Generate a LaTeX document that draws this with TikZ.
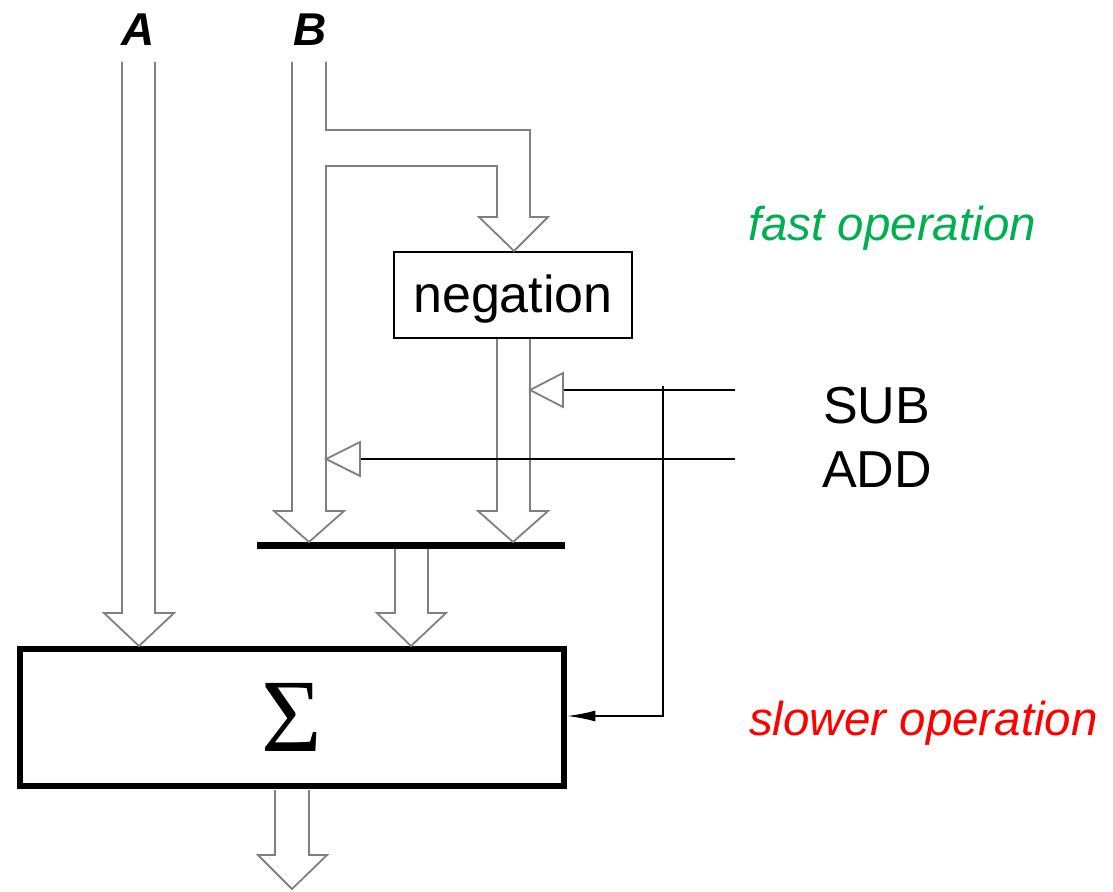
\documentclass[tikz,border=0pt]{standalone}
\usepackage{fontspec}
\setmainfont{Liberation Sans}
\newfontfamily\sigmafont{Liberation Serif}
\usetikzlibrary{arrows.meta}
\definecolor{busgray}{RGB}{128,128,128}
\definecolor{fastgreen}{RGB}{0,176,80}
\definecolor{slowred}{RGB}{255,0,0}

\begin{document}
\begin{tikzpicture}[x=1pt,y=-1pt,
  bus/.style={draw=busgray,line width=1.8pt,line join=miter},
  ctrl/.style={draw=black,line width=1.8pt},
  hollowtip/.style={draw=busgray,line width=1.8pt,fill=white,line join=miter},
  lbl/.style={inner sep=0pt,anchor=base west},
  buslabel/.style={inner sep=0pt,anchor=base,font=\fontsize{46}{50}\selectfont\bfseries\itshape},
  bigtext/.style={font=\fontsize{52}{60}\selectfont},
  note/.style={inner sep=0pt,anchor=base west,font=\fontsize{47.5}{55}\selectfont\itshape}]
\useasboundingbox (0,0) rectangle (1113,891);

% input labels
\node[buslabel] (A) at (138,46) {A};
\node[buslabel] (B) at (310,46) {B};

% adder and negation blocks
\node[draw,line width=6.5pt,minimum width=544pt,minimum height=137pt,inner sep=0pt,
      font=\sigmafont\fontsize{104}{110}\selectfont] (sum) at (292,717.5) {Σ};
\node[draw,line width=1.8pt,minimum width=238pt,minimum height=86pt,inner sep=0pt,
      text height=40pt,text depth=6pt,bigtext] (neg) at (513,295) {negation};

% selector bar
\coordinate (barL) at (257,545.5);
\coordinate (barR) at (565,545.5);
\draw[line width=7pt] (barL) -- (barR);

% bus A into the adder
\draw[bus] (122,62) -- (122,613) -- (104,613) -- (139,646) -- (174,613) -- (155,613) -- (155,62);

% bus B: straight branch to the bar, side branch into negation
\draw[bus] (292,62) -- (292,511) -- (274,511) -- (309,542) -- (344,511) -- (326,511)
  -- (326,166) -- (497,166) -- (497,217) -- (479,217) -- (514,251) -- (548,217)
  -- (530,217) -- (530,130) -- (326,130) -- (326,62);

% negated B to the bar
\draw[bus] (497,339) -- (497,511) -- (478,511) -- (513,542) -- (548,511) -- (530,511) -- (530,339);

% bar into the adder
\draw[bus] (395,549) -- (395,613) -- (377,613) -- (411,646) -- (446,613) -- (428,613) -- (428,549);

% adder output
\draw[bus] (275,790) -- (275,855) -- (258,855) -- (292,889) -- (327,855) -- (309,855) -- (309,790);

% control signals
\coordinate (subIn) at (735,390);
\coordinate (addIn) at (735,459);
\coordinate (subTap) at (663,386);
\coordinate (subCorner) at (663,716);
\draw[ctrl] (addIn) -- (360,459);
\draw[hollowtip] (360,442) -- (360,476) -- (326,459) -- cycle;
\draw[ctrl] (subIn) -- (563,390);
\draw[hollowtip] (563,373) -- (563,407) -- (530,390) -- cycle;
\draw[ctrl,-{Latex[length=28pt,width=11pt]}] (subTap) -- (subCorner) -- (sum.east |- subCorner);

% texts
\node[lbl,bigtext] (sub) at (823,423) {SUB};
\node[lbl,bigtext] (add) at (822,487) {ADD};
\node[note,text=fastgreen] (fast) at (748,240) {fast operation};
\node[note,text=slowred] (slow) at (749,735) {slower operation};
\end{tikzpicture}
\end{document}
